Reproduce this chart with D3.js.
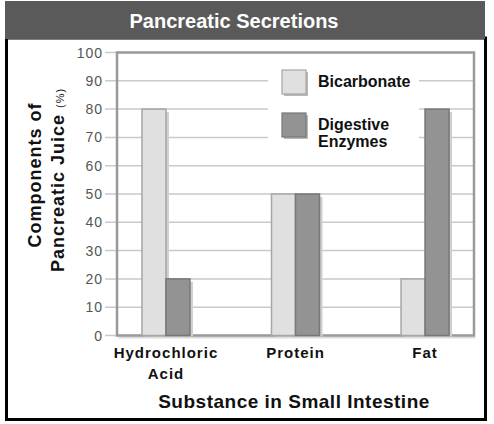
<!DOCTYPE html>
<html>
<head>
<meta charset="utf-8">
<script src="https://cdn.jsdelivr.net/npm/d3@7"></script>
<style>
  body { margin: 0; background: #fff; }
  text { font-family: "Liberation Sans", Arial, sans-serif; }
</style>
</head>
<body>
<svg id="chart" width="494" height="424"></svg>
<script>
// Chart data.
const substances = ["Hydrochloric Acid", "Protein", "Fat"];
const labelLines = [["Hydrochloric", "Acid"], ["Protein"], ["Fat"]];
const seriesNames = ["Bicarbonate", "Digestive Enzymes"];
const bicarbonate = [80, 50, 20];
const enzymes = [20, 50, 80];
const yTicks = [0, 10, 20, 30, 40, 50, 60, 70, 80, 90, 100];

const colors = { "Bicarbonate": "#e0e0e0", "Digestive Enzymes": "#939393" };
const strokes = { "Bicarbonate": "#a6a6a6", "Digestive Enzymes": "#777777" };

const svg = d3.select("#chart");

// Outer frame and title band.
svg.append("rect")
  .attr("x", 6.5).attr("y", 38)
  .attr("width", 479).attr("height", 381.5)
  .attr("fill", "#fff")
  .attr("stroke", "#000")
  .attr("stroke-width", 3);
svg.append("rect")
  .attr("x", 5).attr("y", 1)
  .attr("width", 480).attr("height", 38)
  .attr("fill", "#5a5a5a");
svg.append("text")
  .attr("x", 234).attr("y", 27.5)
  .attr("text-anchor", "middle")
  .attr("fill", "#fff")
  .attr("font-size", "20px")
  .attr("font-weight", "bold")
  .text("Pancreatic Secretions");

// Plot area.
const plot = { left: 117, right: 474, top: 52.5, bottom: 335.5 };
const y = d3.scaleLinear().domain([0, 100]).range([plot.bottom, plot.top]);
const x = d3.scalePoint().domain(substances)
  .range([plot.left, plot.right]).padding(0.378);
const xInner = d3.scaleBand().domain(seriesNames).range([-24, 24]);

// Gridlines and ticks.
const grid = svg.append("g");
grid.selectAll("line.grid")
  .data(yTicks)
  .enter().append("line")
  .attr("class", "grid")
  .attr("x1", 105).attr("x2", plot.right)
  .attr("y1", d => y(d)).attr("y2", d => y(d))
  .attr("stroke", "#c9c9c9")
  .attr("stroke-width", 1.5);
grid.selectAll("text")
  .data(yTicks)
  .enter().append("text")
  .attr("x", 103)
  .attr("y", d => y(d))
  .attr("dy", "0.36em")
  .attr("text-anchor", "end")
  .attr("font-size", "14px")
  .attr("letter-spacing", "1px")
  .attr("fill", "#555")
  .text(d => d);

// Legend background hides the gridlines behind it.
svg.append("rect")
  .attr("x", 268).attr("y", 62)
  .attr("width", 151).attr("height", 86)
  .attr("fill", "#fff");

// Frame of the plot area.
svg.append("rect")
  .attr("x", plot.left + 1.5).attr("y", plot.bottom + 1)
  .attr("width", plot.right - plot.left).attr("height", 2)
  .attr("fill", "#dcdcdc");
svg.append("rect")
  .attr("x", plot.left).attr("y", plot.top)
  .attr("width", plot.right - plot.left)
  .attr("height", plot.bottom - plot.top)
  .attr("fill", "none")
  .attr("stroke", "#9a9a9a")
  .attr("stroke-width", 2.5);

// Bars.
const rows = substances.map((s, i) => ({
  substance: s,
  values: [
    { key: seriesNames[0], value: bicarbonate[i] },
    { key: seriesNames[1], value: enzymes[i] }
  ]
}));
const groups = svg.selectAll(".group")
  .data(rows)
  .enter().append("g")
  .attr("class", "group")
  .attr("transform", d => `translate(${x(d.substance)},0)`);
// Soft shadow on the right side of each bar.
groups.selectAll("rect.shadow")
  .data(d => d.values)
  .enter().append("rect")
  .attr("class", "shadow")
  .attr("x", d => xInner(d.key) + 3)
  .attr("y", d => y(d.value) + 3)
  .attr("width", xInner.bandwidth())
  .attr("height", d => y(0) - y(d.value) - 2)
  .attr("fill", "#cfcfcf");
groups.selectAll("rect.bar")
  .data(d => d.values)
  .enter().append("rect")
  .attr("class", "bar")
  .attr("x", d => xInner(d.key))
  .attr("y", d => y(d.value))
  .attr("width", xInner.bandwidth())
  .attr("height", d => y(0) - y(d.value))
  .attr("fill", d => colors[d.key])
  .attr("stroke", d => strokes[d.key])
  .attr("stroke-width", 1.5);

// Category labels.
groups.append("text")
  .attr("text-anchor", "middle")
  .attr("font-size", "15px")
  .attr("font-weight", "bold")
  .attr("letter-spacing", "1px")
  .attr("fill", "#111")
  .selectAll("tspan")
  .data((d, i) => labelLines[i])
  .enter().append("tspan")
  .attr("x", 0)
  .attr("y", (d, i) => 357.5 + i * 21)
  .text(d => d);

// Legend.
const legend = svg.append("g").attr("transform", "translate(282,70)");
const legendItems = legend.selectAll("g")
  .data(seriesNames)
  .enter().append("g")
  .attr("transform", (d, i) => `translate(0,${i * 43})`);
legendItems.append("rect")
  .attr("x", 2).attr("y", 2)
  .attr("width", 24).attr("height", 24)
  .attr("fill", "#b8b8b8");
legendItems.append("rect")
  .attr("width", 24).attr("height", 24)
  .attr("fill", d => colors[d])
  .attr("stroke", d => strokes[d])
  .attr("stroke-width", 1.2);
legendItems.append("text")
  .attr("font-size", "16px")
  .attr("font-weight", "bold")
  .attr("fill", "#111")
  .selectAll("tspan")
  .data(d => d === "Digestive Enzymes" ? ["Digestive", "Enzymes"] : [d])
  .enter().append("tspan")
  .attr("x", 36)
  .attr("y", (d, i) => 16.5 + i * 17)
  .text(d => d);

// Axis titles.
svg.append("text")
  .attr("x", 294).attr("y", 408)
  .attr("text-anchor", "middle")
  .attr("font-size", "19px")
  .attr("font-weight", "bold")
  .attr("letter-spacing", "0.5px")
  .attr("fill", "#111")
  .text("Substance in Small Intestine");

const yTitle = svg.append("g");
yTitle.append("text")
  .attr("transform", "translate(41,175) rotate(-90)")
  .attr("text-anchor", "middle")
  .attr("font-size", "18px")
  .attr("font-weight", "bold")
  .attr("letter-spacing", "1px")
  .attr("fill", "#111")
  .text("Components of");
const yTitle2 = yTitle.append("text")
  .attr("transform", "translate(64,180) rotate(-90)")
  .attr("text-anchor", "middle")
  .attr("font-weight", "bold")
  .attr("letter-spacing", "1px")
  .attr("fill", "#111");
yTitle2.append("tspan").attr("font-size", "18px").text("Pancreatic Juice ");
yTitle2.append("tspan").attr("font-size", "11px").attr("font-weight", "normal").text("(%)");
</script>
</body>
</html>
